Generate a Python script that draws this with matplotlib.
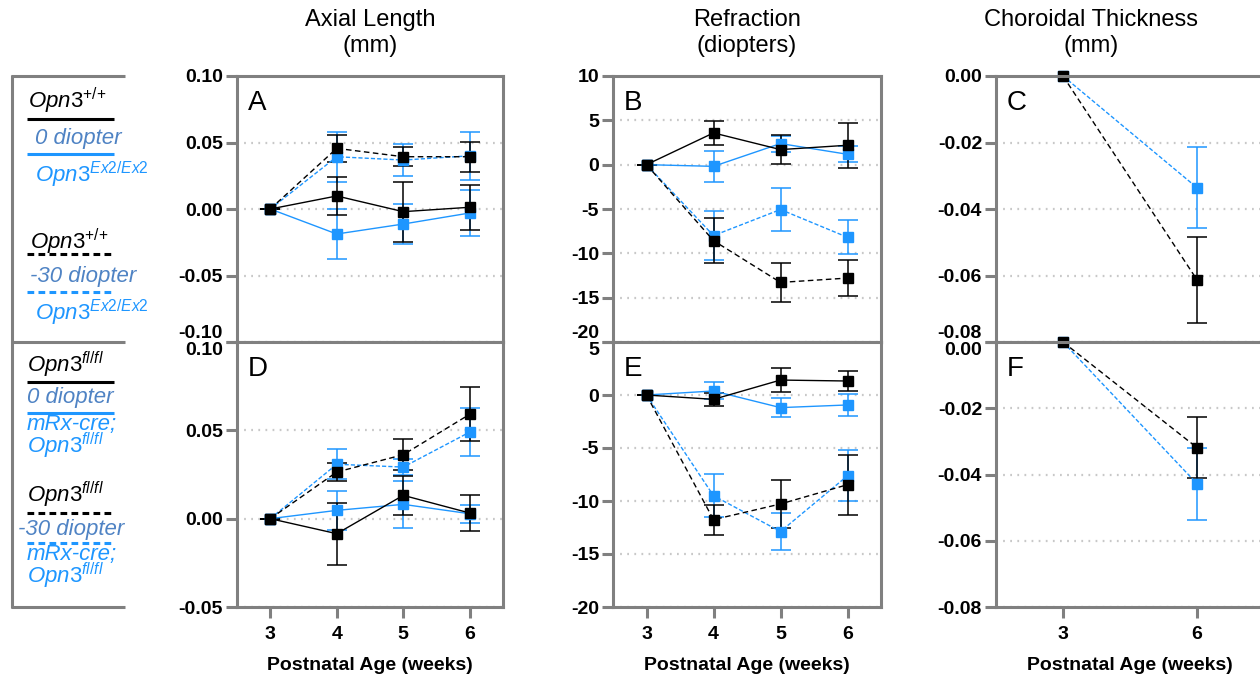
import matplotlib
matplotlib.use("Agg")
import matplotlib.pyplot as plt
from matplotlib.lines import Line2D

plt.rcParams['font.family'] = ['Liberation Sans', 'DejaVu Sans']
plt.rcParams['mathtext.fontset'] = 'custom'
plt.rcParams['mathtext.rm'] = 'Liberation Sans'
plt.rcParams['mathtext.it'] = 'Liberation Sans:italic'

# ---- data ----
weeks = [3, 4, 5, 6]
weeks_ct = [3, 6]

# A: axial length, Opn3+/+ (wt) vs Opn3Ex2/Ex2 (ko)
al_wt_0 = [0, 0.0098, -0.0020, 0.0013]
al_wt_0_err = [0, 0.0145, 0.0225, 0.0170]
al_ko_0 = [0, -0.0188, -0.0113, -0.0030]
al_ko_0_err = [0, 0.0190, 0.0150, 0.0170]
al_wt_30 = [0, 0.0456, 0.0393, 0.0393]
al_wt_30_err = [0, 0.0100, 0.0070, 0.0113]
al_ko_30 = [0, 0.0393, 0.0368, 0.0400]
al_ko_30_err = [0, 0.0188, 0.0120, 0.0180]

# B: refraction
rf_wt_0 = [0, 3.58, 1.70, 2.19]
rf_wt_0_err = [0, 1.40, 1.60, 2.55]
rf_ko_0 = [0, -0.19, 2.38, 1.17]
rf_ko_0_err = [0, 1.75, 0.90, 0.90]
rf_wt_30 = [0, -8.57, -13.28, -12.79]
rf_wt_30_err = [0, 2.55, 2.20, 2.05]
rf_ko_30 = [0, -8.00, -5.06, -8.19]
rf_ko_30_err = [0, 2.80, 2.40, 1.90]

# C: choroidal thickness
ct_wt_30 = [0, -0.0613]
ct_wt_30_err = [0, 0.0130]
ct_ko_30 = [0, -0.0336]
ct_ko_30_err = [0, 0.0122]

# D: axial length, Opn3fl/fl (ctl) vs mRx-cre;Opn3fl/fl (cko)
al_ctl_0 = [0, -0.0085, 0.0132, 0.0032]
al_ctl_0_err = [0, 0.0175, 0.0110, 0.0104]
al_cko_0 = [0, 0.0047, 0.0081, 0.0028]
al_cko_0_err = [0, 0.0110, 0.0135, 0.0050]
al_ctl_30 = [0, 0.0264, 0.0362, 0.0591]
al_ctl_30_err = [0, 0.0052, 0.0087, 0.0152]
al_cko_30 = [0, 0.0308, 0.0292, 0.0490]
al_cko_30_err = [0, 0.0085, 0.0045, 0.0138]

# E: refraction
rf_ctl_0 = [0, -0.41, 1.41, 1.32]
rf_ctl_0_err = [0, 0.60, 1.13, 0.93]
rf_cko_0 = [0, 0.38, -1.19, -0.94]
rf_cko_0_err = [0, 0.80, 0.88, 1.00]
rf_ctl_30 = [0, -11.76, -10.28, -8.46]
rf_ctl_30_err = [0, 1.42, 2.27, 2.82]
rf_cko_30 = [0, -9.50, -12.88, -7.62]
rf_cko_30_err = [0, 2.05, 1.71, 2.40]

# F: choroidal thickness
ct_ctl_30 = [0, -0.0319]
ct_ctl_30_err = [0, 0.0093]
ct_cko_30 = [0, -0.0428]
ct_cko_30_err = [0, 0.0108]

al_ticks = [-0.10, -0.05, 0.00, 0.05, 0.10]
al_labels = ['-0.10', '-0.05', '0.00', '0.05', '0.10']
al2_ticks = [-0.05, 0.00, 0.05, 0.10]
al2_labels = ['-0.05', '0.00', '0.05', '0.10']
rf_ticks = [-20, -15, -10, -5, 0, 5, 10]
rf_labels = ['-20', '-15', '-10', '-5', '0', '5', '10']
rf2_ticks = [-20, -15, -10, -5, 0, 5]
rf2_labels = ['-20', '-15', '-10', '-5', '0', '5']
ct_ticks = [-0.08, -0.06, -0.04, -0.02, 0.00]
ct_labels = ['-0.08', '-0.06', '-0.04', '-0.02', '0.00']

col_titles = ['Axial Length\n(mm)', 'Refraction\n(diopters)', 'Choroidal Thickness\n(mm)']
panel_letters = ['A', 'B', 'C', 'D', 'E', 'F']
xlabel = 'Postnatal Age (weeks)'

BLUE = '#1e96ff'
LEGBLUE = '#4f83c4'
GRAY = '#808080'

W, H = 1260, 676
fig = plt.figure(figsize=(W / 100, H / 100), dpi=100)


def fx(px):
    return px / W


def fy(py):
    return 1 - py / H


def make_ax(x0, x1, y0, y1):
    return fig.add_axes([fx(x0), fy(y1), fx(x1 - x0), (y1 - y0) / H])


def series(ax, x, y, err, color, dashed):
    if dashed:
        ls = (0, (4, 2.5)) if color == 'black' else (0, (3, 1.5))
    else:
        ls = '-'
    ms = 7.5 if color == 'black' else 7
    eb = ax.errorbar(x, y, yerr=err, color=color, ls=ls, lw=1.0,
                     marker='s', ms=ms, mfc=color, mec=color, ecolor=color,
                     elinewidth=1.1, capsize=7, capthick=1.1)
    for art in eb.get_children():
        art.set_clip_on(False)


def style(ax, ylim, ticks, labels, xlim, xticks, top_row):
    ax.set_ylim(*ylim)
    ax.set_xlim(*xlim)
    ax.set_yticks(ticks, labels)
    for sp in ax.spines.values():
        sp.set_color(GRAY)
        sp.set_linewidth(2.2)
    ax.yaxis.grid(True, linestyle=(0, (0.8, 2.4)), color='#c8c8c8', linewidth=1.6)
    ax.set_axisbelow(True)
    ax.tick_params(axis='y', length=8, width=2.2, color=GRAY, pad=2, labelsize=14)
    for lab in ax.get_yticklabels():
        lab.set_fontweight('bold')
    tl = ax.get_yticklabels()
    if top_row:
        tl[0].set_verticalalignment('bottom')
        ax.set_xticks([])
    else:
        tl[-1].set_verticalalignment('top')
        ax.set_xticks(xticks, [str(v) for v in xticks])
        ax.tick_params(axis='x', length=8, width=2.2, color=GRAY, pad=6, labelsize=14)
        for lab in ax.get_xticklabels():
            lab.set_fontweight('bold')
        ax.set_xlabel(xlabel, fontsize=14, fontweight='bold', labelpad=10)


cols = [(237, 503), (613, 881), (996, 1264)]
rows = [(76, 342), (342, 607)]

axA = make_ax(*cols[0], *rows[0])
axB = make_ax(*cols[1], *rows[0])
axC = make_ax(*cols[2], *rows[0])
axD = make_ax(*cols[0], *rows[1])
axE = make_ax(*cols[1], *rows[1])
axF = make_ax(*cols[2], *rows[1])

# A
series(axA, weeks, al_ko_0, al_ko_0_err, BLUE, False)
series(axA, weeks, al_ko_30, al_ko_30_err, BLUE, True)
series(axA, weeks, al_wt_0, al_wt_0_err, 'black', False)
series(axA, weeks, al_wt_30, al_wt_30_err, 'black', True)
style(axA, (-0.10, 0.10), al_ticks, al_labels, (2.5, 6.5), weeks, True)

# B
series(axB, weeks, rf_ko_0, rf_ko_0_err, BLUE, False)
series(axB, weeks, rf_ko_30, rf_ko_30_err, BLUE, True)
series(axB, weeks, rf_wt_0, rf_wt_0_err, 'black', False)
series(axB, weeks, rf_wt_30, rf_wt_30_err, 'black', True)
style(axB, (-20, 10), rf_ticks, rf_labels, (2.5, 6.5), weeks, True)

# C
series(axC, weeks_ct, ct_ko_30, ct_ko_30_err, BLUE, True)
series(axC, weeks_ct, ct_wt_30, ct_wt_30_err, 'black', True)
style(axC, (-0.08, 0.0), ct_ticks, ct_labels, (1.5, 7.5), weeks_ct, True)

# D
series(axD, weeks, al_cko_0, al_cko_0_err, BLUE, False)
series(axD, weeks, al_cko_30, al_cko_30_err, BLUE, True)
series(axD, weeks, al_ctl_0, al_ctl_0_err, 'black', False)
series(axD, weeks, al_ctl_30, al_ctl_30_err, 'black', True)
style(axD, (-0.05, 0.10), al2_ticks, al2_labels, (2.5, 6.5), weeks, False)

# E
series(axE, weeks, rf_cko_0, rf_cko_0_err, BLUE, False)
series(axE, weeks, rf_cko_30, rf_cko_30_err, BLUE, True)
series(axE, weeks, rf_ctl_0, rf_ctl_0_err, 'black', False)
series(axE, weeks, rf_ctl_30, rf_ctl_30_err, 'black', True)
style(axE, (-20, 5), rf2_ticks, rf2_labels, (2.5, 6.5), weeks, False)

# F
series(axF, weeks_ct, ct_cko_30, ct_cko_30_err, BLUE, True)
series(axF, weeks_ct, ct_ctl_30, ct_ctl_30_err, 'black', True)
style(axF, (-0.08, 0.0), ct_ticks, ct_labels, (1.5, 7.5), weeks_ct, False)

for ax, letter in zip([axA, axB, axC, axD, axE, axF], panel_letters):
    ax.text(0.04, 0.90, letter, transform=ax.transAxes, fontsize=20,
            ha='left', va='center')

# column titles
for cx, title in zip([370, 747, 1091], col_titles):
    fig.text(fx(cx), fy(33), title, ha='center', va='center', fontsize=17,
             linespacing=1.25)


# legend boxes on the left
def fig_line(x0, x1, y0, y1, color, lw, ls='-'):
    fig.add_artist(Line2D([fx(x0), fx(x1)], [fy(y0), fy(y1)], transform=fig.transFigure,
                          color=color, lw=lw, ls=ls, solid_capstyle='butt'))


fig_line(12, 12, 75, 608, GRAY, 2.2)
for yy in (76, 342, 607):
    fig_line(11, 125, yy, yy, GRAY, 2.2)

wt = r'$\mathit{Opn3}^{+/{+}}$'
ko = r'$\mathit{Opn3}^{\mathit{Ex2/Ex2}}$'
fl = r'$\mathit{Opn3}^{\mathit{fl/fl}}$'
cre_fl = 'mRx-cre;\n' + fl

# text, colour, x, baseline y
legend_texts = [
    (wt, 'black', 28, 108), ('0 diopter', LEGBLUE, 35, 144), (ko, BLUE, 35, 182),
    (wt, 'black', 30, 249), ('-30 diopter', LEGBLUE, 30, 282), (ko, BLUE, 35, 320),
    (fl, 'black', 27, 372), ('0 diopter', LEGBLUE, 27, 403), (cre_fl, BLUE, 27, 453),
    (fl, 'black', 27, 502), ('-30 diopter', LEGBLUE, 18, 535), (cre_fl, BLUE, 27, 583),
]
for txt, col, xx, yy in legend_texts:
    fig.text(fx(xx), fy(yy), txt, color=col, fontsize=16, style='italic',
             ha='left', va='baseline', linespacing=0.8)

legend_lines = [
    ('black', '-', 119), (BLUE, '-', 154), ('black', '--', 254), (BLUE, '--', 292),
    ('black', '-', 382), (BLUE, '-', 413), ('black', '--', 513), (BLUE, '--', 543),
]
for col, ls, yy in legend_lines:
    fig_line(27, 114, yy, yy, col, 2.2, (0, (2.2, 1.4)) if ls == '--' else '-')

fig.savefig('out.png', dpi=100)
